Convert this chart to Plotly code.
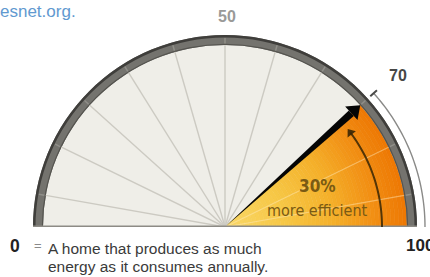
import numpy as np
import plotly.graph_objects as go

# ---------------- data ----------------
scale_values = [0, 50, 70, 100]          # HERS index marks
scale_angles = [180, 90, 42, 0]          # where the picture puts them (deg)
scale_labels = ["0", "50", "70", "100"]
spoke_angles = [10, 26, 42, 58, 74, 90, 106, 122, 138, 154, 170]
hers_value = 70
savings_label = "30%"
savings_text = "more efficient"
caption_lines = ["A home that produces as much", "energy as it consumes annually."]
source_text = "esnet.org."

needle_angle = float(np.interp(hers_value, scale_values, scale_angles))

# ---------------- geometry / style ----------------
W, H = 430, 277
CX, CY = 225, 227          # gauge centre in pixels
R_MAX = 205                # radial range (1 unit = 1 px)
R_FACE, R_RING = 182, 192
R_CURVE, R_OUTER = 157, 200
FACE = "#efeee8"
NARROW = "DejaVu Sans Condensed, Liberation Sans, sans-serif"


def px(x):
    return x / W


def py(y):
    return 1 - y / H


fig = go.Figure()

# face
fig.add_trace(go.Barpolar(r=[R_FACE], theta=[90], width=[180], base=[0],
                          marker=dict(color=FACE, line=dict(width=0)),
                          hoverinfo="skip"))

# spokes on face
sr, st = [], []
for a in spoke_angles:
    if a > needle_angle:
        sr += [0, R_FACE, None]
        st += [a, a, None]
fig.add_trace(go.Scatterpolar(r=sr, theta=st, mode="lines",
                              line=dict(color="#cccac2", width=1.4),
                              hoverinfo="skip"))

# orange wedge (radial gradient approximated with rings)
stops_r = [0, 60, 110, 150, 182]
stops_c = [(250, 216, 104), (247, 200, 70), (245, 176, 42), (242, 143, 20), (238, 120, 4)]
N = 46
dr = R_FACE / N
cols, bases = [], []
for i in range(N):
    rr = (i + 0.5) * dr
    c = [int(np.interp(rr, stops_r, [s[k] for s in stops_c])) for k in range(3)]
    cols.append("rgb(%d,%d,%d)" % tuple(c))
    bases.append(i * dr)
fig.add_trace(go.Barpolar(r=[dr] * N, base=bases, theta=[needle_angle / 2] * N,
                          width=[needle_angle] * N,
                          marker=dict(color=cols, line=dict(color=cols, width=0.6)),
                          hoverinfo="skip"))

# faint spokes on orange
sr, st = [], []
for a in spoke_angles:
    if a < needle_angle:
        sr += [0, R_FACE, None]
        st += [a, a, None]
fig.add_trace(go.Scatterpolar(r=sr, theta=st, mode="lines",
                              line=dict(color="rgba(255,236,190,0.45)", width=1.2),
                              hoverinfo="skip"))

# ring
fig.add_trace(go.Barpolar(r=[R_RING - R_FACE], base=[R_FACE], theta=[90], width=[180],
                          marker=dict(color="#74736e", line=dict(width=0)),
                          hoverinfo="skip"))
fig.add_trace(go.Barpolar(r=[2.5], base=[R_RING - 2.5], theta=[90], width=[180],
                          marker=dict(color="#3f3e3b", line=dict(width=0)),
                          hoverinfo="skip"))
fig.add_trace(go.Barpolar(r=[1.2], base=[R_FACE], theta=[90], width=[180],
                          marker=dict(color="#55544f", line=dict(width=0)),
                          hoverinfo="skip"))
# light marks on ring at spokes
sr, st = [], []
for a in spoke_angles:
    sr += [R_FACE + 1.5, R_RING - 3, None]
    st += [a, a, None]
fig.add_trace(go.Scatterpolar(r=sr, theta=st, mode="lines",
                              line=dict(color="#908f89", width=1.5),
                              hoverinfo="skip"))

# baseline
fig.add_trace(go.Scatterpolar(r=[R_RING, 0, R_RING], theta=[180, 0, 0], mode="lines",
                              line=dict(color="#8d8b85", width=3),
                              hoverinfo="skip"))

# curved arrow inside the wedge
arc_t = np.linspace(0, needle_angle - 5, 40)
fig.add_trace(go.Scatterpolar(r=[R_CURVE] * len(arc_t), theta=arc_t, mode="lines",
                              line=dict(color="rgba(55,38,5,0.85)", width=2),
                              hoverinfo="skip"))
fig.add_trace(go.Scatterpolar(r=[R_CURVE], theta=[needle_angle - 5], mode="markers",
                              marker=dict(symbol="triangle-up", size=9,
                                          angle=-(needle_angle - 5),
                                          color="rgba(55,38,5,0.9)"),
                              hoverinfo="skip"))

# needle (tapered wedge) + arrowhead
fig.add_trace(go.Barpolar(r=[170], base=[0], theta=[needle_angle], width=[2.5],
                          marker=dict(color="#050505", line=dict(width=0)),
                          hoverinfo="skip"))
fig.add_trace(go.Scatterpolar(r=[174], theta=[needle_angle], mode="markers",
                              marker=dict(symbol="triangle-up", size=16,
                                          angle=90 - needle_angle, color="#050505"),
                              hoverinfo="skip"))

# outer arc and tick at 70
out_t = np.linspace(0, needle_angle, 40)
fig.add_trace(go.Scatterpolar(r=[R_OUTER] * len(out_t), theta=out_t, mode="lines",
                              line=dict(color="#8a8a88", width=1.4),
                              hoverinfo="skip"))
fig.add_trace(go.Scatterpolar(r=[R_OUTER - 4.5, R_OUTER + 4.5], theta=[needle_angle] * 2,
                              mode="lines", line=dict(color="#4a4a48", width=2),
                              hoverinfo="skip"))

annos = [
    dict(x=px(227), y=py(17), text="<b>" + scale_labels[1] + "</b>", xanchor="center",
         font=dict(family="Liberation Sans", size=16, color="#9a9a98")),
    dict(x=px(398), y=py(75), text="<b>" + scale_labels[2] + "</b>", xanchor="center",
         font=dict(family="Liberation Sans", size=16, color="#474746")),
    dict(x=px(8), y=py(246), text="<b>" + scale_labels[0] + "</b>", xanchor="left",
         font=dict(family="Liberation Sans", size=17.5, color="#222222")),
    dict(x=px(32), y=py(245), text="=", xanchor="left",
         font=dict(family="Liberation Sans", size=13, color="#8a8a8a")),
    dict(x=px(404), y=py(245), text="<b>" + scale_labels[3] + "</b>", xanchor="left",
         font=dict(family="Liberation Sans", size=17, color="#222222")),
    dict(x=px(46), y=py(248), text=caption_lines[0], xanchor="left",
         font=dict(family="Liberation Sans", size=15.5, color="#3a3a3a")),
    dict(x=px(46), y=py(266), text=caption_lines[1], xanchor="left",
         font=dict(family="Liberation Sans", size=15.5, color="#3a3a3a")),
    dict(x=px(-2), y=py(11), text=source_text, xanchor="left",
         font=dict(family="Liberation Sans", size=17, color="#6199d0")),
    dict(x=px(317), y=py(186), text="<b>" + savings_label + "</b>", xanchor="center",
         font=dict(family=NARROW, size=17, color="#7a5a14")),
    dict(x=px(317), y=py(210), text=savings_text, xanchor="center",
         font=dict(family=NARROW, size=16, color="#7a5a14")),
]
for a in annos:
    a.update(xref="paper", yref="paper", yanchor="middle", showarrow=False)

fig.update_layout(
    width=W, height=H, margin=dict(l=0, r=0, t=0, b=0),
    paper_bgcolor="white", plot_bgcolor="white", showlegend=False,
    annotations=annos,
    polar=dict(
        domain=dict(x=[px(CX - R_MAX), px(CX + R_MAX)], y=[py(CY), py(CY - R_MAX)]),
        sector=[0, 180], hole=0, bgcolor="rgba(0,0,0,0)",
        bargap=0,
        radialaxis=dict(range=[0, R_MAX], visible=False, showgrid=False),
        angularaxis=dict(visible=False, showgrid=False, direction="counterclockwise",
                         rotation=0),
    ),
)

fig.write_html("out.html", config={"displayModeBar": False},
               post_script="document.body.style.margin='0';document.body.style.padding='0';")
